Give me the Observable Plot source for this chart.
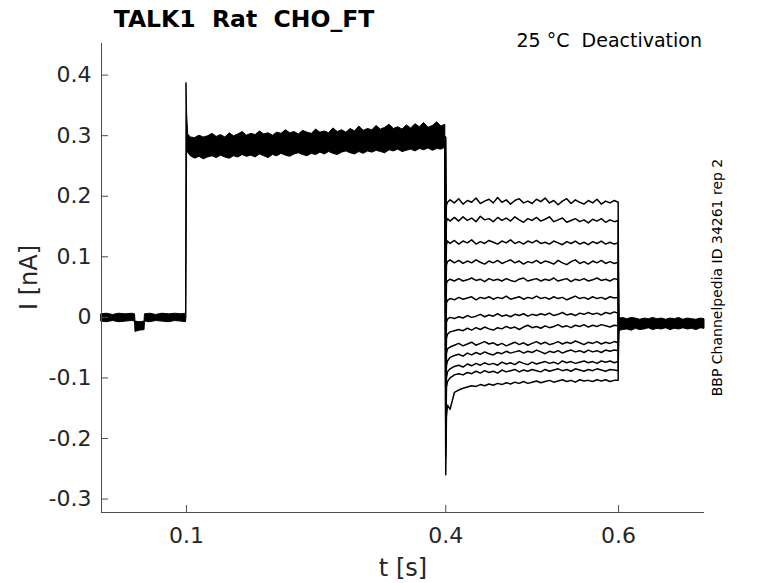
<!DOCTYPE html>
<html><head><meta charset="utf-8">
<script src="https://cdn.jsdelivr.net/npm/d3@7"></script>
<script src="https://cdn.jsdelivr.net/npm/@observablehq/plot@0.6"></script>
<style>body{margin:0;background:#fff}</style>
</head><body><div id="chart"></div>
<script>
// ---- axes ----
const xDomain = [0.0017, 0.6994];
const yDomain = [-0.3222, 0.4522];
const xTicks = [0.1, 0.4, 0.6];
const xTickLabels = ["0.1", "0.4", "0.6"];
const yTicks = [-0.3, -0.2, -0.1, 0, 0.1, 0.2, 0.3, 0.4];
const yTickLabels = ["-0.3", "-0.2", "-0.1", "0", "0.1", "0.2", "0.3", "0.4"];

// ---- holding period (noisy band envelope, shared by all sweeps) ----
const baseT  = [0.0017, 0.008, 0.015, 0.022, 0.030, 0.037, 0.0405, 0.041, 0.046, 0.0515, 0.052, 0.058, 0.065, 0.072, 0.080, 0.087, 0.094, 0.0995];
const baseHi = [0.005, 0.006, 0.004, 0.006, 0.005, 0.006, 0.005, -0.007, -0.008, -0.007, 0.005, 0.006, 0.004, 0.006, 0.005, 0.006, 0.005, 0.006];
const baseLo = [-0.007, -0.008, -0.006, -0.008, -0.007, -0.006, -0.007, -0.024, -0.022, -0.021, -0.007, -0.008, -0.006, -0.007, -0.008, -0.006, -0.007, -0.008];

// ---- activating step 0.1 - 0.4 s (band envelope) ----
const stepT = [0.1, 0.1008, 0.102, 0.105,
  0.11, 0.115, 0.12, 0.125, 0.13, 0.135, 0.14, 0.145, 0.15, 0.155,
  0.16, 0.165, 0.17, 0.175, 0.18, 0.185, 0.19, 0.195, 0.20, 0.205,
  0.21, 0.215, 0.22, 0.225, 0.23, 0.235, 0.24, 0.245, 0.25, 0.255,
  0.26, 0.265, 0.27, 0.275, 0.28, 0.285, 0.29, 0.295, 0.30, 0.305,
  0.31, 0.315, 0.32, 0.325, 0.33, 0.335, 0.34, 0.345, 0.35, 0.355,
  0.36, 0.365, 0.37, 0.375, 0.38, 0.385, 0.39, 0.395, 0.3995];
const stepHi = [0.387, 0.335, 0.302, 0.297,
  0.296, 0.300, 0.297, 0.299, 0.303, 0.298, 0.301, 0.297, 0.304, 0.299,
  0.302, 0.306, 0.300, 0.303, 0.301, 0.307, 0.302, 0.304, 0.300, 0.305,
  0.303, 0.309, 0.304, 0.306, 0.302, 0.308, 0.305, 0.303, 0.310, 0.305,
  0.307, 0.304, 0.312, 0.306, 0.309, 0.305, 0.311, 0.307, 0.315, 0.308,
  0.311, 0.309, 0.316, 0.310, 0.313, 0.318, 0.311, 0.314, 0.310, 0.317,
  0.312, 0.319, 0.314, 0.321, 0.313, 0.316, 0.322, 0.315, 0.318];
const stepLo = [0.000, 0.290, 0.272, 0.266,
  0.262, 0.265, 0.261, 0.264, 0.266, 0.263, 0.267, 0.264, 0.262, 0.266,
  0.264, 0.268, 0.265, 0.267, 0.264, 0.269, 0.266, 0.263, 0.268, 0.266,
  0.270, 0.267, 0.265, 0.269, 0.271, 0.268, 0.266, 0.270, 0.268, 0.272,
  0.269, 0.273, 0.270, 0.268, 0.272, 0.274, 0.271, 0.269, 0.273, 0.270,
  0.274, 0.272, 0.275, 0.273, 0.271, 0.276, 0.274, 0.277, 0.273, 0.275,
  0.277, 0.274, 0.278, 0.276, 0.279, 0.275, 0.278, 0.277, 0.280];
const stepEnd = 0.298;

// ---- deactivation tails 0.4 - 0.6 s, one per sweep ----
const tailT = [0.4, 0.4008, 0.402, 0.405, 0.41,
  0.415, 0.42, 0.425, 0.43, 0.435, 0.44, 0.445, 0.45, 0.455, 0.46,
  0.465, 0.47, 0.475, 0.48, 0.485, 0.49, 0.495, 0.50, 0.505, 0.51,
  0.515, 0.52, 0.525, 0.53, 0.535, 0.54, 0.545, 0.55, 0.555, 0.56,
  0.565, 0.57, 0.575, 0.58, 0.585, 0.59, 0.595, 0.5995];
const tail1 = [0.15, 0.185, 0.190, 0.194, 0.189,
  0.196, 0.187, 0.193, 0.190, 0.197, 0.188, 0.192, 0.195, 0.189, 0.198,
  0.190, 0.194, 0.187, 0.193, 0.196, 0.189, 0.192, 0.188, 0.195, 0.191,
  0.197, 0.189, 0.193, 0.186, 0.192, 0.196, 0.188, 0.194, 0.190, 0.187,
  0.193, 0.189, 0.195, 0.187, 0.192, 0.189, 0.193, 0.190];
const tail2 = [0.11, 0.158, 0.163, 0.159, 0.165,
  0.159, 0.166, 0.160, 0.164, 0.158, 0.167, 0.161, 0.163, 0.158, 0.165,
  0.160, 0.164, 0.159, 0.166, 0.161, 0.157, 0.163, 0.160, 0.165, 0.159,
  0.162, 0.166, 0.158, 0.161, 0.164, 0.157, 0.160, 0.163, 0.158, 0.161,
  0.156, 0.162, 0.159, 0.163, 0.157, 0.161, 0.158, 0.160];
const tail3 = [0.06, 0.120, 0.126, 0.122, 0.127,
  0.121, 0.126, 0.123, 0.128, 0.121, 0.125, 0.122, 0.127, 0.124, 0.121,
  0.126, 0.123, 0.128, 0.122, 0.125, 0.121, 0.126, 0.123, 0.127, 0.122,
  0.124, 0.121, 0.126, 0.123, 0.120, 0.125, 0.122, 0.126, 0.121, 0.124,
  0.120, 0.125, 0.122, 0.126, 0.121, 0.124, 0.121, 0.123];
const tail4 = [0.02, 0.086, 0.092, 0.095, 0.090,
  0.094, 0.089, 0.093, 0.090, 0.095, 0.091, 0.088, 0.093, 0.090, 0.094,
  0.089, 0.092, 0.095, 0.090, 0.093, 0.088, 0.092, 0.090, 0.094, 0.089,
  0.093, 0.091, 0.088, 0.094, 0.090, 0.087, 0.092, 0.095, 0.089, 0.092,
  0.088, 0.093, 0.090, 0.094, 0.089, 0.092, 0.089, 0.091];
const tail5 = [-0.02, 0.056, 0.060, 0.063, 0.060,
  0.064, 0.060, 0.062, 0.065, 0.061, 0.063, 0.059, 0.064, 0.061, 0.063,
  0.060, 0.064, 0.061, 0.059, 0.063, 0.065, 0.060, 0.062, 0.064, 0.060,
  0.063, 0.061, 0.065, 0.060, 0.062, 0.064, 0.059, 0.063, 0.061, 0.064,
  0.060, 0.062, 0.065, 0.061, 0.063, 0.060, 0.064, 0.062];
const tail6 = [-0.05, 0.024, 0.028, 0.031, 0.029,
  0.033, 0.030, 0.032, 0.034, 0.029, 0.033, 0.031, 0.034, 0.030, 0.033,
  0.031, 0.035, 0.030, 0.032, 0.034, 0.030, 0.033, 0.031, 0.035, 0.031,
  0.033, 0.030, 0.034, 0.031, 0.033, 0.029, 0.032, 0.035, 0.031, 0.033,
  0.030, 0.034, 0.031, 0.033, 0.030, 0.034, 0.032, 0.033];
const tail7 = [-0.09, -0.008, -0.003, 0.000, -0.002,
  0.001, -0.001, 0.003, 0.000, 0.002, 0.005, 0.001, 0.004, 0.002, 0.006,
  0.002, 0.004, 0.001, 0.005, 0.003, 0.006, 0.002, 0.005, 0.003, 0.006,
  0.004, 0.007, 0.003, 0.005, 0.008, 0.004, 0.006, 0.003, 0.007, 0.005,
  0.008, 0.005, 0.007, 0.004, 0.008, 0.006, 0.009, 0.007];
const tail8 = [-0.12, -0.035, -0.028, -0.024, -0.022,
  -0.020, -0.022, -0.018, -0.021, -0.017, -0.020, -0.016, -0.019, -0.021, -0.017,
  -0.019, -0.015, -0.018, -0.016, -0.020, -0.016, -0.013, -0.017, -0.015, -0.018,
  -0.014, -0.017, -0.015, -0.012, -0.016, -0.014, -0.017, -0.013, -0.015, -0.012,
  -0.016, -0.013, -0.015, -0.012, -0.014, -0.016, -0.013, -0.014];
const tail9 = [-0.15, -0.060, -0.052, -0.049, -0.046,
  -0.043, -0.047, -0.044, -0.041, -0.046, -0.043, -0.040, -0.044, -0.042, -0.046,
  -0.043, -0.047, -0.044, -0.041, -0.045, -0.042, -0.046, -0.043, -0.040, -0.044,
  -0.041, -0.045, -0.043, -0.040, -0.044, -0.041, -0.043, -0.039, -0.042, -0.045,
  -0.041, -0.043, -0.040, -0.044, -0.041, -0.043, -0.040, -0.042];
const tail10 = [-0.18, -0.080, -0.072, -0.066, -0.063,
  -0.061, -0.064, -0.059, -0.062, -0.058, -0.061, -0.057, -0.060, -0.062, -0.058,
  -0.060, -0.056, -0.059, -0.057, -0.055, -0.059, -0.056, -0.058, -0.054, -0.057,
  -0.060, -0.056, -0.058, -0.055, -0.059, -0.056, -0.054, -0.057, -0.055, -0.058,
  -0.054, -0.057, -0.055, -0.058, -0.054, -0.056, -0.054, -0.055];
const tail11 = [-0.21, -0.100, -0.090, -0.085, -0.081,
  -0.079, -0.082, -0.077, -0.080, -0.076, -0.079, -0.075, -0.078, -0.076, -0.079,
  -0.074, -0.077, -0.075, -0.078, -0.073, -0.076, -0.078, -0.074, -0.077, -0.075,
  -0.073, -0.076, -0.074, -0.077, -0.072, -0.075, -0.073, -0.076, -0.074, -0.072,
  -0.075, -0.073, -0.076, -0.072, -0.074, -0.072, -0.075, -0.073];
const tail12 = [-0.23, -0.115, -0.106, -0.100, -0.095,
  -0.093, -0.095, -0.091, -0.093, -0.089, -0.092, -0.088, -0.091, -0.089, -0.092,
  -0.087, -0.090, -0.088, -0.086, -0.090, -0.087, -0.089, -0.086, -0.088, -0.090,
  -0.086, -0.089, -0.087, -0.085, -0.088, -0.086, -0.089, -0.085, -0.087, -0.089,
  -0.086, -0.088, -0.085, -0.087, -0.089, -0.086, -0.087, -0.088];
const tail13 = [-0.26, -0.165, -0.145, -0.152, -0.124,
  -0.120, -0.117, -0.115, -0.113, -0.114, -0.111, -0.113, -0.110, -0.112, -0.109,
  -0.111, -0.108, -0.110, -0.107, -0.109, -0.106, -0.109, -0.107, -0.105, -0.108,
  -0.106, -0.104, -0.107, -0.105, -0.103, -0.106, -0.104, -0.107, -0.103, -0.105,
  -0.104, -0.106, -0.103, -0.105, -0.103, -0.106, -0.104, -0.104];
const tails = [tail1, tail2, tail3, tail4, tail5, tail6, tail7, tail8, tail9, tail10, tail11, tail12, tail13];

// ---- return to holding after 0.6 s (band envelope) ----
const afterT  = [0.6, 0.6008, 0.602, 0.605, 0.61, 0.615, 0.62, 0.625, 0.63, 0.635, 0.64, 0.645, 0.65, 0.655, 0.66, 0.665, 0.67, 0.675, 0.68, 0.685, 0.69, 0.695, 0.6994];
const afterHi = [0.007, 0.000, -0.002, -0.001, -0.003, -0.001, -0.002, -0.004, -0.002, -0.003, -0.001, -0.003, -0.002, -0.004, -0.002, -0.003, -0.001, -0.004, -0.002, -0.003, -0.004, -0.002, -0.003];
const afterLo = [-0.028, -0.024, -0.022, -0.021, -0.020, -0.022, -0.019, -0.021, -0.020, -0.018, -0.021, -0.019, -0.020, -0.018, -0.021, -0.019, -0.020, -0.018, -0.020, -0.019, -0.021, -0.018, -0.019];
const afterLevel = -0.011;

// ---- texts ----
const titleText = "TALK1  Rat  CHO_FT";
const subText = "25 °C  Deactivation";
const sideText = "BBP Channelpedia ID 34261 rep 2";
const xLabel = "t [s]";
const yLabel = "I [nA]";

// ---- build tables ----
const preBand = [
  ...baseT.map((t, i) => ({t, lo: baseLo[i], hi: baseHi[i]})),
  ...stepT.map((t, i) => ({t, lo: stepLo[i], hi: stepHi[i]}))
];
const postBand = afterT.map((t, i) => ({t, lo: afterLo[i], hi: afterHi[i]}));
const tailRows = [];
tails.forEach((vals, k) => {
  tailRows.push({trace: k, t: stepT[stepT.length - 1], v: stepEnd});
  vals.forEach((v, i) => tailRows.push({trace: k, t: tailT[i], v}));
  tailRows.push({trace: k, t: afterT[0], v: afterLevel});
});

const FONT = "DejaVu Sans";
const axisColor = "#4d4d4d";
const plot = Plot.plot({
  width: 778, height: 583,
  marginLeft: 101, marginRight: 74, marginTop: 43, marginBottom: 71,
  x: {domain: xDomain},
  y: {domain: yDomain},
  style: {fontFamily: FONT, color: "#262626", background: "#fff", overflow: "visible"},
  marks: [
    Plot.areaY(preBand, {x: "t", y1: "lo", y2: "hi", fill: "black", stroke: "black", strokeWidth: 1}),
    Plot.areaY(postBand, {x: "t", y1: "lo", y2: "hi", fill: "black", stroke: "black", strokeWidth: 1}),
    Plot.line(tailRows, {x: "t", y: "v", z: "trace", stroke: "black", strokeWidth: 1.5}),
    Plot.ruleX([xDomain[0]], {stroke: axisColor, strokeWidth: 1}),
    Plot.ruleY([yDomain[0]], {stroke: axisColor, strokeWidth: 1}),
    Plot.axisY(yTicks, {anchor: "left", tickSize: -7, tickPadding: 17, stroke: axisColor, fill: "#262626", fontSize: 22,
      tickFormat: d => yTickLabels[yTicks.indexOf(d)], label: null}),
    Plot.axisX(xTicks, {anchor: "bottom", tickSize: -7, tickPadding: 22, stroke: axisColor, fill: "#262626", fontSize: 22,
      tickFormat: d => xTickLabels[xTicks.indexOf(d)], label: null})
  ]
});
document.getElementById("chart").appendChild(plot);

const svg = d3.select(plot);
svg.append("text").attr("x", 244).attr("y", 27).attr("text-anchor", "middle")
  .attr("font-family", FONT).attr("font-weight", "bold").attr("font-size", 23.5).attr("fill", "#000").text(titleText);
svg.append("text").attr("x", 702).attr("y", 47).attr("text-anchor", "end")
  .attr("font-family", FONT).attr("font-size", 19).attr("fill", "#000").text(subText);
svg.append("text").attr("transform", "translate(722,277.5) rotate(-90)").attr("text-anchor", "middle")
  .attr("font-family", FONT).attr("font-size", 14).attr("fill", "#000").text(sideText);
svg.append("text").attr("transform", "translate(37,277.5) rotate(-90)").attr("text-anchor", "middle")
  .attr("font-family", FONT).attr("font-size", 24).attr("fill", "#262626").text(yLabel);
svg.append("text").attr("x", 403).attr("y", 576).attr("text-anchor", "middle")
  .attr("font-family", FONT).attr("font-size", 24).attr("fill", "#262626").text(xLabel);
</script>
</body></html>
